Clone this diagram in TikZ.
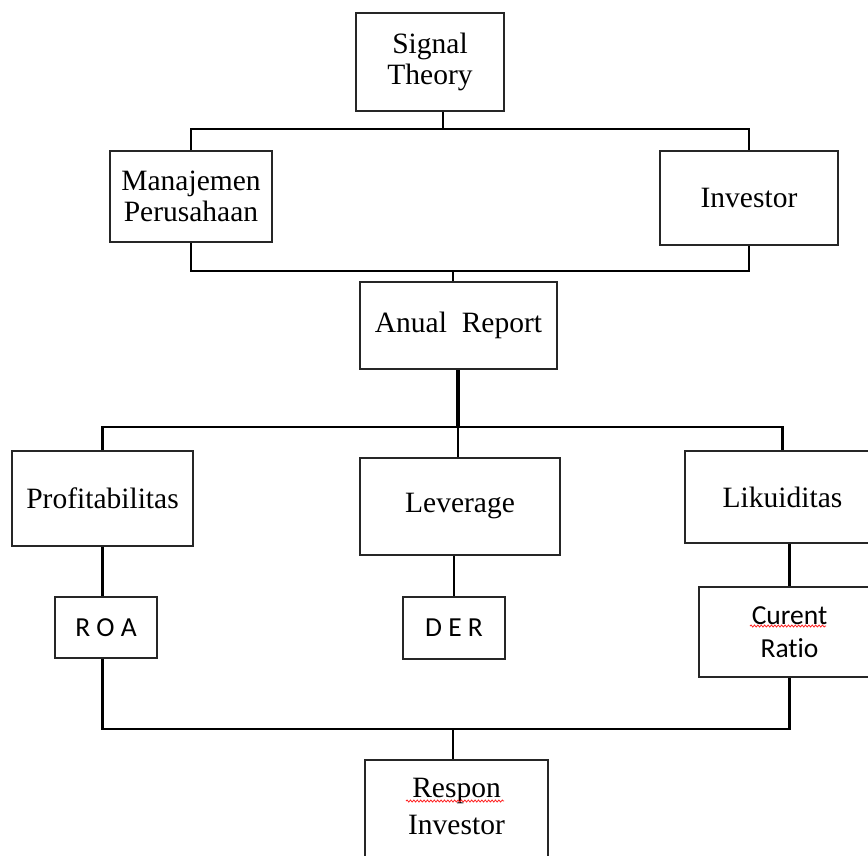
\documentclass[tikz,border=0pt]{standalone}
\usepackage{fontspec}
\setmainfont{Liberation Serif}
\newfontfamily\calibrifont{Carlito}
\usetikzlibrary{decorations.pathmorphing}

\begin{document}
\begin{tikzpicture}[x=1pt, y=-1pt,
    box/.style={draw=black!85, line width=1.6pt, fill=white, align=center, inner sep=0pt,
      font=\fontsize{29.5}{28}\selectfont},
    smallbox/.style={box, font=\calibrifont\fontsize{27.5}{33}\selectfont},
    link/.style={line width=2.9pt},
    trunk/.style={line width=3.8pt},
    squiggle/.style={red!85, line width=0.8pt, decorate,
      decoration={snake, amplitude=1pt, segment length=3.4pt}}]
  \clip (0,0) rectangle (868,855);
  \fill[white] (0,0) rectangle (868,855);

  % --- top: theory and the two parties ---
  \node[box, minimum width=148pt, minimum height=98pt] (signal) at (430,62) {Signal\\[3pt]Theory};
  \node[box, minimum width=162pt, minimum height=91pt] (manaj) at (191,196.5) {Manajemen\\[3pt]Perusahaan};
  \node[box, minimum width=178pt, minimum height=94pt] (invest) at (749,198) {Investor};
  \node[box, minimum width=197pt, minimum height=87pt] (anual) at (458.5,325.5) {Anual\ \ Report};

  % --- middle: the three ratios ---
  \node[box, minimum width=181pt, minimum height=95pt] (profit) at (102.5,498.5) {Profitabilitas};
  \node[box, minimum width=200pt, minimum height=97pt] (lever) at (460,506.5) {Leverage};
  \node[box, minimum width=195pt, minimum height=92pt] (likui) at (782.5,497) {Likuiditas};
  \node[smallbox, minimum width=102pt, minimum height=61pt] (roa) at (106,627.5) {R O A};
  \node[smallbox, minimum width=102pt, minimum height=62pt] (der) at (454,628) {D E R};
  \node[smallbox, minimum width=181pt, minimum height=90pt] (curent) at (789.5,632) {Curent\\Rat\kern0pt io};

  % --- bottom: the response ---
  \node[box, anchor=north, minimum width=183pt, inner ysep=18pt, text depth=60pt] (respon)
    at (456.5,759) {Respon\\[9pt]Investor};

  % --- connectors ---
  \coordinate (j1) at (443,129);
  \coordinate (j2) at (453,271);
  \coordinate (j3) at (458,427);
  \coordinate (j4) at (453,729);
  \draw[link] (j1 |- signal.south) -- (j1);
  \draw[link] (manaj.north) |- (j1) -| (invest.north);
  \draw[link] (manaj.south) |- (j2) -| (invest.south);
  \draw[link] (j2) -- (j2 |- anual.north);
  \draw[trunk] (j3 |- anual.south) -- (j3);
  \draw[link] (profit.north) |- (j3) -| (likui.north);
  \draw[link] (j3) -- (j3 |- lever.north);
  \draw[link] (profit.south) -- (profit.south |- roa.north);
  \draw[link] (der.north |- lever.south) -- (der.north);
  \draw[link] (curent.north |- likui.south) -- (curent.north);
  \draw[link] (profit.south |- roa.south) |- (j4) -| (curent.south);
  \draw[link] (j4) -- (j4 |- respon.north);

  % spell-check marks
  \draw[squiggle] (750,626) -- (826,626);
  \draw[squiggle] (406,801) -- (504,801);
\end{tikzpicture}
\end{document}
